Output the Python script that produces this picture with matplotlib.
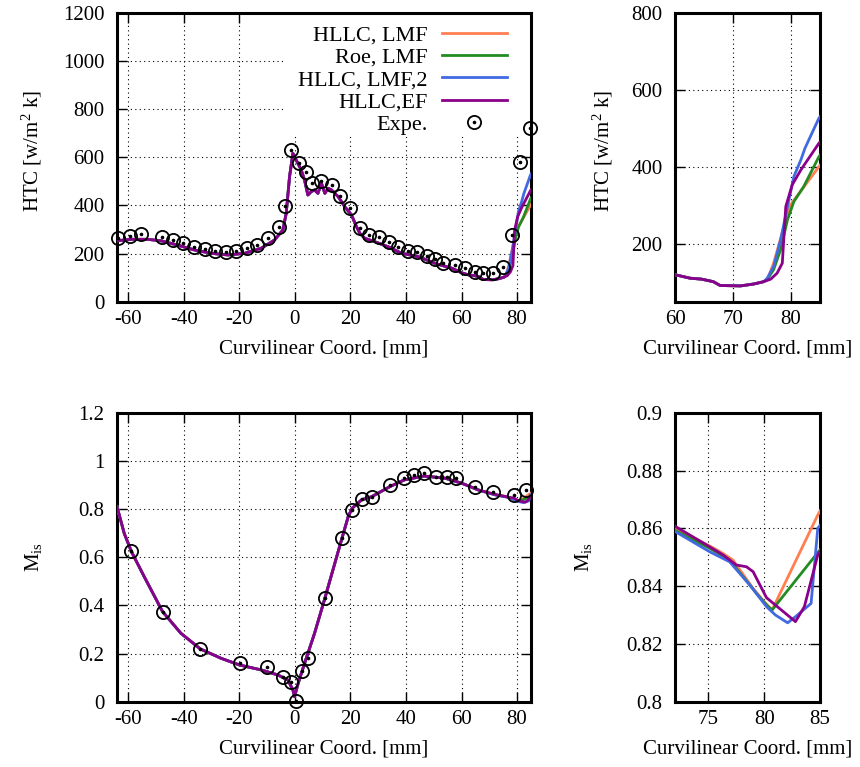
import numpy as np
import matplotlib
matplotlib.use("Agg")
import matplotlib.pyplot as plt
from matplotlib.legend_handler import HandlerTuple
from matplotlib.patches import Rectangle

plt.rcParams['font.family'] = ['Liberation Serif', 'DejaVu Serif']
plt.rcParams['mathtext.fontset'] = 'custom'
plt.rcParams['mathtext.rm'] = 'Liberation Serif'
plt.rcParams['mathtext.it'] = 'Liberation Serif:italic'
plt.rcParams['axes.unicode_minus'] = False

# ---------------- data: HTC ----------------
htc_exp_x = [-63.6, -59.4, -55.4, -47.9, -44.0, -40.4, -36.2, -32.3, -28.6, -24.7, -21.0, -17.1,
             -13.5, -9.7, -5.7, -3.4, -1.3, 1.5, 4.2, 6.2, 9.6, 13.2, 16.3, 19.9, 23.3, 26.8,
             30.4, 34.0, 37.3, 40.6, 43.9, 47.5, 50.5, 53.5, 57.7, 61.3, 64.7, 67.9, 71.5,
             74.8, 78.2, 81.2, 84.5]
htc_exp_y = [263, 273, 281, 267, 256, 242, 227, 218, 212, 206, 212, 223,
             234, 263, 311, 399, 630, 577, 537, 492, 500, 483, 440, 388, 307, 277,
             267, 249, 228, 212, 206, 190, 176, 162, 152, 139, 125, 121, 118,
             145, 277, 581, 720]

htc_common_x = [-64.0, -59.0, -53.0, -48.2, -42.2, -36.2, -30.1, -24.1, -18.1, -12.1, -7.3, -4.3,
                -3.1, -1.9, -0.7, 0.5, 2.3, 3.5, 4.7, 5.9, 7.1, 8.3, 9.6, 10.8, 12.0, 13.2,
                15.6, 18.0, 20.4, 22.2, 23.4, 25.2, 28.8, 33.6, 38.4, 44.5, 50.5, 56.5,
                60.3, 62.6, 64.6, 66.6, 67.8, 71.3, 73.6, 75.3]
htc_common_y = [253, 259, 259, 253, 235, 215, 201, 194, 201, 222, 256, 298,
                367, 519, 616, 588, 547, 505, 443, 457, 464, 450, 491, 450, 471, 464,
                436, 394, 360, 311, 284, 263, 249, 228, 201, 187, 159, 139,
                119, 111, 108.5, 102, 92, 91, 96, 102]

htc_tail_x_hllc = [76.0, 77.0, 78.8, 79.9, 84.8, 85.0]
htc_tail_y_hllc = [110, 150, 245, 301, 400, 404]
htc_tail_x_roe = [75.9, 77.0, 78.2, 79.4, 80.5, 82.2, 84.8, 85.0]
htc_tail_y_roe = [108, 133, 185, 263, 310, 349, 426, 430]
htc_tail_x_hllc2 = [75.9, 77.0, 78.2, 79.4, 80.5, 81.7, 82.4, 84.8, 85.0]
htc_tail_y_hllc2 = [111, 141, 210, 297, 375, 418, 448, 526, 530]
htc_tail_x_ef = [76.5, 77.6, 78.5, 79.1, 80.2, 81.7, 84.8, 85.0]
htc_tail_y_ef = [108.5, 124, 150, 297, 353, 392, 461, 464]

# ---------------- data: Mis ----------------
mis_exp_x = [-58.8, -47.6, -34.0, -19.8, -9.9, -4.2, -1.5, 0.3, 2.7, 4.8, 10.8, 16.8,
             20.6, 24.0, 27.6, 34.2, 39.4, 43.0, 46.5, 50.7, 54.7, 57.9, 64.7, 71.5,
             78.8, 83.2]
mis_exp_y = [0.626, 0.374, 0.219, 0.159, 0.143, 0.104, 0.083, 0.003, 0.127, 0.180, 0.429, 0.679,
             0.796, 0.842, 0.851, 0.900, 0.930, 0.941, 0.948, 0.934, 0.932, 0.928, 0.890, 0.872,
             0.858, 0.879]

mis_common_x = [-64.0, -61.4, -58.8, -54.2, -47.6, -41.0, -34.0, -26.5, -19.8, -12.1, -6.1, -2.5,
                -0.7, -0.1, 1.2, 3.5, 7.1, 10.8, 14.4, 16.8, 19.2, 20.6, 24.0, 27.6,
                34.2, 39.4, 46.5, 54.1, 60.1, 66.1]
mis_common_y = [0.810, 0.699, 0.623, 0.519, 0.374, 0.284, 0.219, 0.180, 0.152, 0.132, 0.111, 0.090,
                0.049, 0.021, 0.076, 0.159, 0.284, 0.429, 0.575, 0.672, 0.768, 0.803, 0.838, 0.851,
                0.893, 0.921, 0.937, 0.928, 0.907, 0.879]

mis_tail_x_hllc = [72.05, 75.1, 76.3, 77.2, 79.0, 80.0, 80.7, 84.8, 85.0]
mis_tail_y_hllc = [0.8600, 0.8539, 0.8513, 0.8490, 0.8392, 0.8346, 0.8317, 0.8646, 0.8660]
mis_tail_x_roe = [72.05, 75.1, 76.9, 78.1, 79.3, 80.2, 80.7, 84.8, 85.0]
mis_tail_y_roe = [0.8592, 0.8531, 0.8490, 0.8433, 0.8375, 0.8335, 0.8317, 0.8516, 0.8525]
mis_tail_x_hllc2 = [72.05, 75.1, 76.9, 78.7, 80.2, 81.0, 82.1, 82.8, 84.2, 84.8, 85.0]
mis_tail_y_hllc2 = [0.8588, 0.8519, 0.8484, 0.8404, 0.8329, 0.8300, 0.8273, 0.8294, 0.8340, 0.8600, 0.8610]
mis_tail_x_ef = [72.05, 75.1, 76.3, 77.5, 78.4, 79.0, 80.2, 82.8, 83.6, 84.8, 85.0]
mis_tail_y_ef = [0.8606, 0.8536, 0.8508, 0.8473, 0.8467, 0.8450, 0.8360, 0.8277, 0.8329, 0.8508, 0.8520]

labels = ["HLLC, LMF", "Roe, LMF", "HLLC, LMF,2", "HLLC,EF"]
colors = ["#ff7f50", "#228b22", "#4169e1", "#8b008b"]

htc_series = [
    (htc_common_x + htc_tail_x_hllc, htc_common_y + htc_tail_y_hllc),
    (htc_common_x + htc_tail_x_roe, htc_common_y + htc_tail_y_roe),
    (htc_common_x + htc_tail_x_hllc2, htc_common_y + htc_tail_y_hllc2),
    (htc_common_x + htc_tail_x_ef, htc_common_y + htc_tail_y_ef),
]
mis_series = [
    (mis_common_x + mis_tail_x_hllc, mis_common_y + mis_tail_y_hllc),
    (mis_common_x + mis_tail_x_roe, mis_common_y + mis_tail_y_roe),
    (mis_common_x + mis_tail_x_hllc2, mis_common_y + mis_tail_y_hllc2),
    (mis_common_x + mis_tail_x_ef, mis_common_y + mis_tail_y_ef),
]

FS = 15
LFS = 15
KFS = 16
fig = plt.figure(figsize=(8.6, 7.67), dpi=100)
W, H = 860.0, 767.0

def make_ax(l, r, t, b):
    return fig.add_axes([l / W, 1 - b / H, (r - l) / W, (b - t) / H])

ax1 = make_ax(117, 531, 12.7, 301.7)
ax2 = make_ax(675, 820, 12.7, 301.7)
ax3 = make_ax(117, 531, 412.7, 701.7)
ax4 = make_ax(675, 820, 412.7, 701.7)


def style(ax):
    for s in ax.spines.values():
        s.set_linewidth(2.2)
    ax.tick_params(direction='in', length=7, width=1.0, top=True, right=True,
                   labelsize=FS, pad=6)
    ax.tick_params(axis='y', pad=9)
    ax.grid(True, linestyle=(0, (1, 3)), color='black', linewidth=0.8)
    ax.set_axisbelow(True)


def draw_exp(ax, x, y):
    h1, = ax.plot(x, y, linestyle='none', marker='o', ms=9.5, mfc='none', mec='black',
                  mew=1.3, clip_on=False, zorder=5)
    h2, = ax.plot(x, y, linestyle='none', marker='o', ms=1.6, mfc='black', mec='black',
                  clip_on=False, zorder=5)
    return (h1, h2)

# Top-left
line_handles = []
for (x, y), c, lab in zip(htc_series, colors, labels):
    h, = ax1.plot(x, y, color=c, lw=2.0, label=lab, zorder=3)
    line_handles.append(h)
exp_h = draw_exp(ax1, htc_exp_x, htc_exp_y)
ax1.set_xlim(-64, 85)
ax1.set_ylim(0, 1200)
ax1.set_xticks([-60, -40, -20, 0, 20, 40, 60, 80])
ax1.set_yticks([0, 200, 400, 600, 800, 1000, 1200])
style(ax1)
ax1.set_ylabel("HTC [w/m$^2$ k]", fontsize=LFS)
ax1.set_xlabel("Curvilinear Coord. [mm]", fontsize=LFS)
# opaque key background
ax1.add_patch(Rectangle(((283 - 117) / 414.0, (301.7 - 135) / 289.0),
                        (531 - 283) / 414.0, (135 - 12.7) / 289.0,
                        transform=ax1.transAxes, facecolor='white', edgecolor='none',
                        zorder=1))
leg = ax1.legend(line_handles + [exp_h], labels + ["Expe."],
                 handler_map={tuple: HandlerTuple(ndivide=1)},
                 loc='upper right',
                 bbox_to_anchor=((507 - 117) / 414.0, (301.7 - 25) / 289.0),
                 borderaxespad=0.0, borderpad=0.0,
                 markerfirst=False, frameon=False, fontsize=KFS,
                 handlelength=2.93, handletextpad=0.63, labelspacing=0.08)
leg.set_zorder(4)

# Top-right
for (x, y), c in zip(htc_series, colors):
    ax2.plot(x, y, color=c, lw=2.0, zorder=3)
ax2.set_xlim(60, 85)
ax2.set_ylim(50, 800)
ax2.set_xticks([60, 70, 80])
ax2.set_yticks([200, 400, 600, 800])
style(ax2)
ax2.set_ylabel("HTC [w/m$^2$ k]", fontsize=LFS)
ax2.set_xlabel("Curvilinear Coord. [mm]", fontsize=LFS)

# Bottom-left
for (x, y), c in zip(mis_series, colors):
    ax3.plot(x, y, color=c, lw=2.0, zorder=3)
draw_exp(ax3, mis_exp_x, mis_exp_y)
ax3.set_xlim(-64, 85)
ax3.set_ylim(0, 1.2)
ax3.set_xticks([-60, -40, -20, 0, 20, 40, 60, 80])
ax3.set_yticks([0, 0.2, 0.4, 0.6, 0.8, 1.0, 1.2])
ax3.set_yticklabels(["0", "0.2", "0.4", "0.6", "0.8", "1", "1.2"])
style(ax3)
ax3.set_ylabel("M$_{\\mathrm{is}}$", fontsize=LFS)
ax3.set_xlabel("Curvilinear Coord. [mm]", fontsize=LFS)

# Bottom-right
for (x, y), c in zip(mis_series, colors):
    ax4.plot(x, y, color=c, lw=2.0, zorder=3)
ax4.set_xlim(72, 85)
ax4.set_ylim(0.8, 0.9)
ax4.set_xticks([75, 80, 85])
ax4.set_yticks([0.8, 0.82, 0.84, 0.86, 0.88, 0.9])
ax4.set_yticklabels(["0.8", "0.82", "0.84", "0.86", "0.88", "0.9"])
style(ax4)
ax4.set_ylabel("M$_{\\mathrm{is}}$", fontsize=LFS)
ax4.set_xlabel("Curvilinear Coord. [mm]", fontsize=LFS)

# label positions (axes fraction)
ax1.yaxis.set_label_coords((32 - 117) / 414.0, 0.52)
ax3.yaxis.set_label_coords((33 - 117) / 414.0, 0.5)
ax2.yaxis.set_label_coords((603 - 675) / 145.0, 0.52)
ax4.yaxis.set_label_coords((583 - 675) / 145.0, 0.5)
for ax in [ax1, ax2, ax3, ax4]:
    ax.xaxis.set_label_coords(0.5, (301.7 - 349) / 289.0)
    ax.xaxis.label.set_va('center')
    ax.yaxis.label.set_va('center')

fig.savefig("out.png", dpi=100)
